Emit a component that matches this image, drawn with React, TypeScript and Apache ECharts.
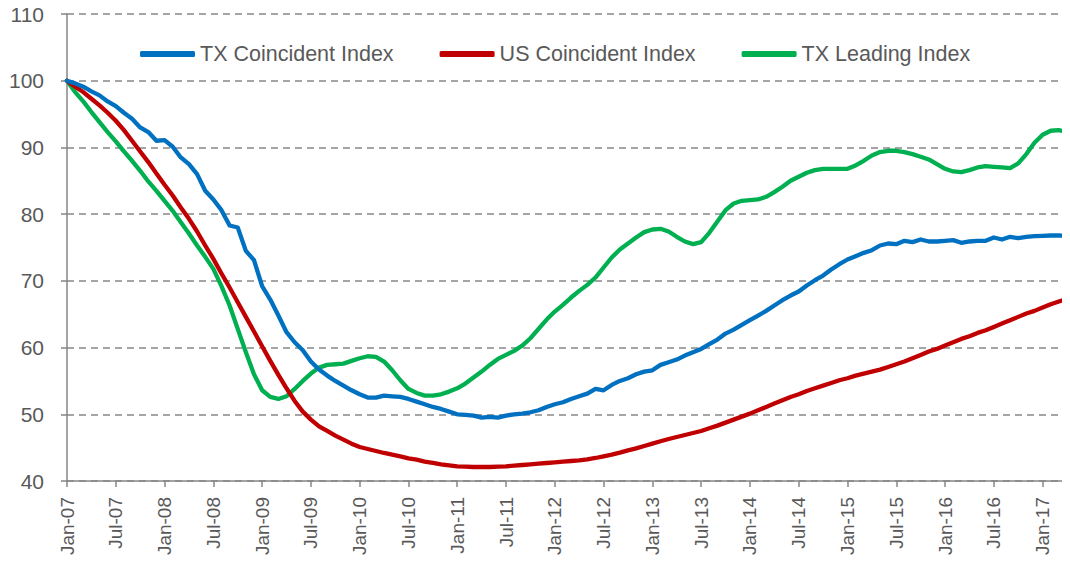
import React, { useEffect, useRef } from "react";
import * as echarts from "echarts";

const monthNames = ["Jan", "Feb", "Mar", "Apr", "May", "Jun", "Jul", "Aug", "Sep", "Oct", "Nov", "Dec"];
const startYear = 2007;
const monthCount = 124; // Jan-07 .. Apr-17

const categories: string[] = [];
for (let i = 0; i < monthCount; i++) {
  const y = startYear + Math.floor(i / 12);
  categories.push(`${monthNames[i % 12]}-${String(y % 100).padStart(2, "0")}`);
}

const seriesNames = ["TX Coincident Index", "US Coincident Index", "TX Leading Index"];

const txCoincident = [
  100, 99.6, 99.1, 98.4, 97.8, 96.9, 96.2, 95.2, 94.3, 93.0, 92.3, 91.0,
  91.1, 90.1, 88.5, 87.5, 86.0, 83.5, 82.2, 80.6, 78.3, 78.0, 74.5, 73.1,
  69.2, 67.2, 64.8, 62.3, 60.8, 59.6, 57.9, 56.7, 55.8, 55.0, 54.3, 53.6,
  53.0, 52.5, 52.5, 52.8, 52.7, 52.6, 52.3, 51.9, 51.5, 51.1, 50.8, 50.4,
  50.0, 49.9, 49.8, 49.5, 49.6, 49.5, 49.8, 50.0, 50.1, 50.3, 50.6, 51.1,
  51.5, 51.8, 52.3, 52.7, 53.1, 53.8, 53.6, 54.4, 55.0, 55.4, 56.0, 56.4,
  56.6, 57.4, 57.8, 58.2, 58.8, 59.3, 59.8, 60.5, 61.2, 62.1, 62.7, 63.4,
  64.1, 64.8, 65.5, 66.3, 67.1, 67.8, 68.4, 69.3, 70.1, 70.8, 71.7, 72.5,
  73.2, 73.7, 74.2, 74.6, 75.3, 75.6, 75.5, 76.0, 75.8, 76.2, 75.9, 75.9,
  76.0, 76.1, 75.7, 75.9, 76.0, 76.0, 76.5, 76.2, 76.6, 76.4, 76.6, 76.7,
  76.75, 76.8, 76.8, 76.75,
];

const usCoincident = [
  100, 99.1, 98.3, 97.3, 96.3, 95.2, 94.0, 92.6, 91.0, 89.4, 87.8, 86.1,
  84.4, 82.8, 81.0, 79.3, 77.4, 75.3, 73.3, 71.1, 69.0, 66.8, 64.6, 62.4,
  60.2, 58.0, 55.9, 53.9, 52.0, 50.4, 49.2, 48.2, 47.5, 46.8, 46.2, 45.6,
  45.1, 44.8, 44.5, 44.2, 43.95, 43.7, 43.4, 43.2, 42.9, 42.7, 42.5, 42.35,
  42.2, 42.15, 42.1, 42.1, 42.1, 42.15, 42.2, 42.3, 42.4, 42.5, 42.6, 42.7,
  42.8, 42.9, 43.0, 43.1, 43.25, 43.45, 43.7, 43.95, 44.25, 44.6, 44.9, 45.25,
  45.6, 45.95, 46.3, 46.6, 46.9, 47.2, 47.5, 47.9, 48.3, 48.75, 49.2, 49.65,
  50.1, 50.6, 51.1, 51.6, 52.1, 52.6, 53.0, 53.5, 53.9, 54.3, 54.7, 55.1,
  55.4, 55.8, 56.1, 56.4, 56.7, 57.1, 57.5, 57.9, 58.4, 58.9, 59.4, 59.8,
  60.3, 60.8, 61.3, 61.7, 62.2, 62.6, 63.1, 63.6, 64.1, 64.6, 65.1, 65.5,
  66.0, 66.5, 66.9, 67.3,
];

const txLeading = [
  100, 98.3, 96.9, 95.3, 93.8, 92.3, 90.9, 89.4, 88.0, 86.5, 84.9, 83.5,
  82.0, 80.5, 78.8, 77.1, 75.3, 73.6, 71.8, 69.2, 66.3, 62.8, 59.3, 56.0,
  53.6, 52.6, 52.3, 52.7, 53.8, 55.0, 56.1, 57.0, 57.4, 57.5, 57.6, 58.0,
  58.4, 58.7, 58.6, 57.9, 56.6, 55.1, 53.8, 53.2, 52.8, 52.8, 53.0, 53.4,
  53.9, 54.6, 55.5, 56.4, 57.4, 58.3, 58.9, 59.5, 60.3, 61.4, 62.8, 64.2,
  65.4, 66.4, 67.5, 68.5, 69.4, 70.5, 72.0, 73.5, 74.7, 75.6, 76.5, 77.3,
  77.7, 77.8, 77.4, 76.6, 75.9, 75.5, 75.8, 77.2, 78.9, 80.6, 81.6, 82.0,
  82.1, 82.2, 82.6, 83.3, 84.1, 85.0, 85.6, 86.2, 86.6, 86.8, 86.8, 86.8,
  86.8, 87.3, 88.0, 88.8, 89.3, 89.5, 89.5, 89.3, 89.0, 88.6, 88.2, 87.5,
  86.8, 86.4, 86.3, 86.6, 87.0, 87.2, 87.1, 87.0, 86.9, 87.6, 89.0, 90.7,
  91.9, 92.5, 92.6, 92.3,
];

const seriesColors = ["#0070C0", "#C00000", "#00B050"];

const yMin = 40;
const yMax = 110;
const yStep = 10;

const FONT = "'Liberation Sans', Arial, sans-serif";

export default function App() {
  const ref = useRef<HTMLDivElement>(null);

  useEffect(() => {
    if (!ref.current) return;
    const chart = echarts.init(ref.current, undefined, { renderer: "svg" });
    const dataSets = [txCoincident, usCoincident, txLeading];
    chart.setOption({
      animation: false,
      backgroundColor: "#ffffff",
      textStyle: { fontFamily: FONT },
      grid: { left: 67, right: 3, top: 14, bottom: 84, containLabel: false },
      legend: {
        top: 43,
        left: 140,
        padding: 0,
        itemWidth: 55,
        itemHeight: 6,
        itemGap: 46,
        icon: "roundRect",
        textStyle: { fontSize: 21.5, color: "#595959", fontFamily: FONT },
        data: seriesNames,
      },
      xAxis: {
        type: "category",
        data: categories,
        boundaryGap: false,
        axisLine: { lineStyle: { color: "#868686", width: 1.5 } },
        axisTick: { interval: 5, length: 6, lineStyle: { color: "#868686", width: 1.5 } },
        axisLabel: {
          interval: 5,
          rotate: 90,
          margin: 16,
          fontSize: 19,
          color: "#595959",
          fontFamily: FONT,
        },
        splitLine: { show: false },
      },
      yAxis: {
        type: "value",
        min: yMin,
        max: yMax,
        interval: yStep,
        axisLine: { show: true, lineStyle: { color: "#868686", width: 1.5 } },
        axisTick: { show: true, length: 6, lineStyle: { color: "#868686", width: 1.5 } },
        axisLabel: { margin: 23, fontSize: 21, color: "#595959", fontFamily: FONT },
        splitLine: { lineStyle: { color: "#888888", width: 1.5, type: [7, 5] } },
      },
      series: seriesNames.map((name, i) => ({
        name,
        type: "line",
        data: dataSets[i],
        symbol: "none",
        smooth: false,
        lineStyle: { color: seriesColors[i], width: 4.3, join: "round", cap: "round" },
        itemStyle: { color: seriesColors[i] },
        z: i === 0 ? 5 : i === 1 ? 4 : 3,
      })),
    });
    return () => chart.dispose();
  }, []);

  return <div ref={ref} style={{ width: 1070, height: 565, margin: -8 }} />;
}
